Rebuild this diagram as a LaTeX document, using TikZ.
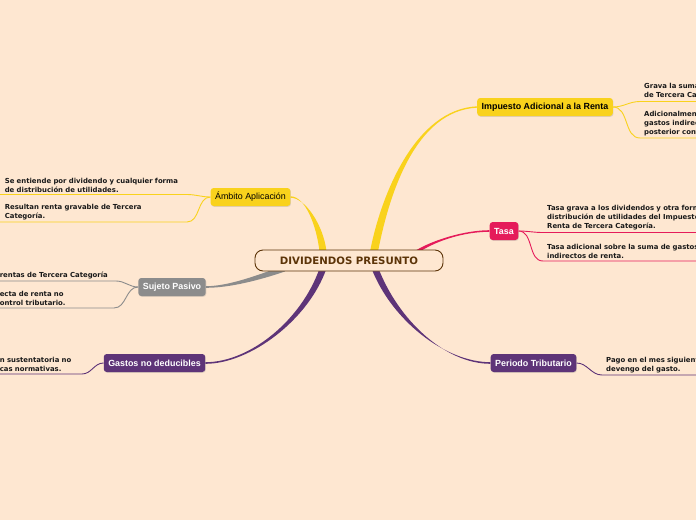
\documentclass[tikz,border=0pt]{standalone}
\usepackage{fontspec}
\usepackage{xcolor}
\usepackage{tikz}
\usetikzlibrary{calc,backgrounds,shadows}
\newfontfamily\leaffont{DejaVu Sans}
\newfontfamily\topicfont{Liberation Sans}
\definecolor{bgpeach}{RGB}{254,231,209}
\definecolor{rootbrown}{RGB}{92,52,8}
\definecolor{dyellow}{RGB}{249,210,28}
\definecolor{tpink}{RGB}{229,27,90}
\definecolor{gpurple}{RGB}{94,52,120}
\definecolor{sgray}{RGB}{140,140,140}
% tapered branch: colour, start half width, end half width, start, control 1, control 2, end
\newcommand{\branch}[7]{%
  \fill[#1] ($#4+#2$) .. controls ($#5+#2$) and ($#6+#3$) .. ($#7+#3$)
    -- ($#7-#3$) .. controls ($#6-#3$) and ($#5-#2$) .. ($#4-#2$) -- cycle;}

\begin{document}
\begin{tikzpicture}[
  x=1pt, y=-1pt,
  every node/.style={align=center},
  rootnd/.style  = {draw=rootbrown, line width=0.9pt, fill=bgpeach, rounded corners=8pt,
                    minimum width=188pt, minimum height=21pt, text=rootbrown,
                    font=\leaffont\bfseries\fontsize{10.2}{12}\selectfont},
  topic/.style   = {rounded corners=3pt, inner xsep=4.5pt, minimum height=18pt,
                    font=\topicfont\bfseries\fontsize{8.9}{10}\selectfont,
                    drop shadow={opacity=0.25, shadow xshift=0.6pt, shadow yshift=-0.8pt}},
  ylwnd/.style   = {topic, fill=dyellow, text=black},
  pinknd/.style  = {topic, fill=tpink, text=white},
  purpnd/.style  = {topic, fill=gpurple, text=white},
  graynd/.style  = {topic, fill=sgray, text=white},
  leaf/.style    = {align=left, inner xsep=4pt, inner ysep=2pt, text=black!90,
                    font=\leaffont\bfseries\fontsize{6.9}{9}\selectfont},
  rleaf/.style   = {leaf, anchor=south west, text width=200pt},
  lleaf/.style   = {leaf, anchor=south east},
  twig/.style    = {line width=0.9pt}
]
\useasboundingbox (0,0) rectangle (696,520);
\clip (0,0) rectangle (696,520);

\node[rootnd] (root) at (349,260.5) {DIVIDENDOS PRESUNTO};

\node[ylwnd]  (imp)  at (545,107)   {Impuesto Adicional a la Renta};
\node[ylwnd, font=\topicfont\fontsize{8.9}{10}\selectfont] (amb) at (250.5,197) {Ámbito Aplicación};
\node[pinknd] (tasa) at (504,231)   {Tasa};
\node[graynd] (suj)  at (172,287)   {Sujeto Pasivo};
\node[purpnd] (gas)  at (154.5,363) {Gastos no deducibles};
\node[purpnd] (per)  at (533.5,363) {Periodo Tributario};

% main branches, behind the nodes
\coordinate (rtImp)  at ($(root.north)+(25,2)$);
\coordinate (rtAmb)  at ($(root.north)+(-26,2)$);
\coordinate (rtTasa) at ($(root.north)+(68,2)$);
\coordinate (rtSuj)  at ($(root.south)+(-64,-3)$);
\coordinate (rtGas)  at ($(root.south)+(-26,-3)$);
\coordinate (rtPer)  at ($(root.south)+(26,-3)$);
\begin{scope}[on background layer]
\fill[bgpeach] (0,0) rectangle (696,520);
\branch{dyellow}{(4,0)}{(0,0.7)}{(rtImp)}{(385,195)}{(415,110)}{(imp.west)}
\branch{dyellow}{(3.5,0)}{(0,0.7)}{(rtAmb)}{(320,225)}{(305,197)}{(amb.east)}
\branch{tpink}{(3,0)}{(0,0.8)}{(rtTasa)}{(435,240)}{(465,231)}{(tasa.west)}
\branch{sgray}{(0,3)}{(0,0.8)}{(rtSuj)}{(260,277)}{(230,287)}{(suj.east)}
\branch{gpurple}{(3.5,0)}{(0,0.8)}{(rtGas)}{(305,320)}{(250,363)}{(gas.east)}
\branch{gpurple}{(3.5,0)}{(0,0.8)}{(rtPer)}{(395,320)}{(445,363)}{(per.west)}
\end{scope}

% Impuesto Adicional
\node[rleaf] (imp1) at (640,101.5) {Grava la suma\\de Tercera Categoría};
\node[rleaf] (imp2) at (640,138)   {Adicionalmente\\gastos indirectos\\posterior control};
\draw[twig, dyellow] (imp.east) to[out=0,in=180] (imp1.south west) -- (imp1.south east);
\draw[twig, dyellow] (imp.east) to[out=0,in=180] (imp2.south west) -- (imp2.south east);

% Tasa
\node[rleaf] (tas1) at (543,232.5) {Tasa grava a los dividendos y otra forma\\distribución de utilidades del Impuesto\\Renta de Tercera Categoría.};
\node[rleaf] (tas2) at (543,261)   {Tasa adicional sobre la suma de gastos\\indirectos de renta.};
\draw[twig, tpink] (tasa.east) to[out=0,in=180] (tas1.south west) -- (tas1.south east);
\draw[twig, tpink] (tasa.east) to[out=0,in=180] (tas2.south west) -- (tas2.south east);

% Periodo Tributario
\node[rleaf] (per1) at (602,375) {Pago en el mes siguiente\\devengo del gasto.};
\draw[twig, gpurple] (per.east) to[out=0,in=180] (per1.south west) -- (per1.south east);

% Ambito Aplicacion
\node[lleaf, text width=178pt] (amb1) at (187,194.5)
  {Se entiende por dividendo y cualquier forma\\de distribución de utilidades.};
\node[lleaf, text width=178pt] (amb2) at (187,222)
  {Resultan renta gravable de Tercera\\Categoría.};
\draw[twig, dyellow] (amb.west) to[out=180,in=0] (amb1.south east) -- (amb1.south west) -- ++(-6,0);
\draw[twig, dyellow] (amb.west) to[out=180,in=0] (amb2.south east) -- (amb2.south west) -- ++(-6,0);

% Sujeto Pasivo
\node[lleaf, text width=112pt] (suj1) at (116,281)
  {rentas de Tercera Categoría};
\node[lleaf, text width=110pt] (suj2) at (114,308)
  {ecta de renta no\\ontrol tributario.};
\draw[twig, sgray] (suj.west) to[out=180,in=0] (suj1.south east) -- (suj1.south west);
\draw[twig, sgray] (suj.west) to[out=180,in=0] (suj2.south east) -- (suj2.south west);

% Gastos no deducibles
\node[lleaf, text width=78pt] (gas1) at (82,374)
  {n sustentatoria no\\cas normativas.};
\draw[twig, gpurple] (gas.west) to[out=180,in=0] (gas1.south east) -- (gas1.south west);
\end{tikzpicture}
\end{document}
